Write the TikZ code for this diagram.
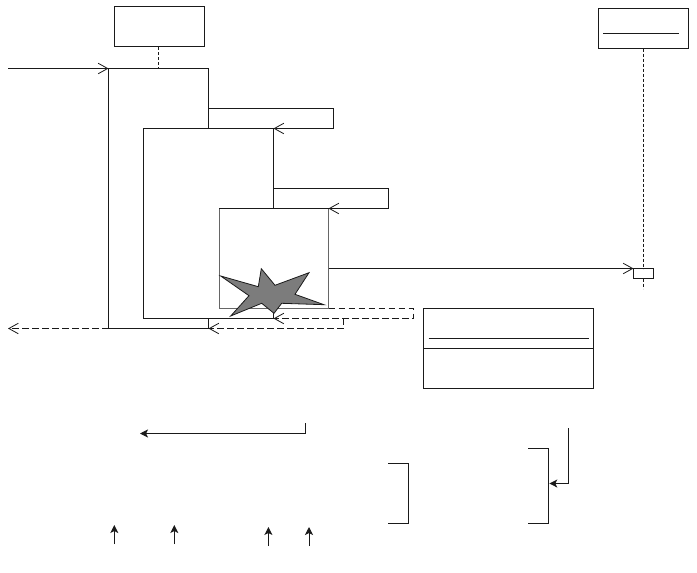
\documentclass[tikz,border=0pt]{standalone}
\usetikzlibrary{arrows.meta,calc}
\definecolor{ink}{HTML}{1A1A1A}
\definecolor{softink}{HTML}{666666}
\definecolor{starfill}{HTML}{7C7C7C}
\tikzset{
  boxnode/.style={draw=ink,fill=white,line width=1pt,inner sep=0pt,outer sep=0pt,anchor=north west,rectangle},
  softbox/.style={boxnode,draw=softink},
  link/.style={draw=ink,line width=1pt,line join=miter},
  openlink/.style={link,-{Straight Barb[length=9.5pt,width=10.5pt,line width=0.8pt]}},
  backlink/.style={openlink,dash pattern=on 6.5pt off 3.5pt},
  solidlink/.style={link,-{Stealth[length=8pt,width=8pt,inset=2pt]}},
  lifeline/.style={draw=ink,line width=1pt,dash pattern=on 3pt off 2pt},
}
\begin{document}
\begin{tikzpicture}[x=1pt,y=-1pt]
\useasboundingbox (0,0) rectangle (697,573);
% participants
\node[boxnode,minimum width=90pt,minimum height=40pt] (objA) at (114.5,6.5) {};
\node[boxnode,minimum width=90pt,minimum height=40pt] (objB) at (598.5,8.3) {};
\coordinate (bl1) at (603,33.4);
\coordinate (bl2) at (679,33.4);
\draw[link] (bl1) -- (bl2);
% activations
\node[boxnode,minimum width=100pt,minimum height=260pt] (act1) at (108.5,68.5) {};
\coordinate (s1a) at (208.5,108.5);
\coordinate (s1b) at (333.5,108.5);
\coordinate (s1c) at (333.5,128.5);
\node[boxnode,minimum width=130pt,minimum height=190pt] (act2) at (143.5,128.5) {};
\coordinate (s2a) at (273.5,188.5);
\coordinate (s2b) at (388.5,188.5);
\coordinate (s2c) at (388.5,208.5);
\node[softbox,minimum width=109.5pt,minimum height=100pt] (act3) at (219,208.5) {};
\draw[link] (act3.north west) -- (act3.north east);
\draw[openlink] (s1a) -- (s1b) -- (s1c) -- (act2.north east);
\draw[openlink] (s2a) -- (s2b) -- (s2c) -- (act3.north east);
% lifelines
\coordinate (la) at (158.5,47);
\coordinate (lb) at (158.5,68.5);
\draw[lifeline] (la) -- (lb);
\node[boxnode,minimum width=20pt,minimum height=10pt] (small) at (633.5,268.5) {};
\coordinate (lc) at (643.5,48.5);
\coordinate (ld) at (643.5,268.5);
\coordinate (le) at (643.5,278.5);
\coordinate (lf) at (643.5,288.5);
\draw[lifeline] (lc) -- (ld);
\draw[lifeline] (le) -- (lf);
% messages
\coordinate (start) at (8,68.5);
\draw[openlink] (start) -- (act1.north west);
\coordinate (m3a) at (328.5,268.5);
\coordinate (m3b) at (633.5,268.5);
\draw[openlink] (m3a) -- (m3b);
% star
\draw[draw=ink,fill=starfill,line width=0.8pt,line join=miter]
  (220.7,276) -- (258.3,286.7) -- (261.3,268.7) -- (275,285.3) -- (309,272.7) -- (295,294.3)
  -- (324,304.7) -- (281.7,303.3) -- (274,313.3) -- (261.7,303.3) -- (230.7,316) -- (249,295.7) -- cycle;
% returns
\coordinate (r1a) at (328.5,308.5);
\coordinate (r1b) at (413.5,308.5);
\coordinate (r1c) at (413.5,318.5);
\coordinate (r1d) at (273.5,318.5);
\draw[backlink] (r1a) -- (r1b) -- (r1c) -- (r1d);
\coordinate (r2a) at (343.5,318.5);
\coordinate (r2b) at (343.5,328.5);
\coordinate (r2c) at (208.5,328.5);
\draw[backlink] (r2a) -- (r2b) -- (r2c);
\coordinate (r3a) at (108.5,328.5);
\coordinate (r3b) at (8,328.5);
\draw[backlink] (r3a) -- (r3b);
% class box
\node[boxnode,minimum width=170pt,minimum height=80pt] (cls) at (423.5,308.5) {};
\coordinate (c1) at (423.5,348.4);
\coordinate (c2) at (593.5,348.4);
\coordinate (c3) at (428.5,338.4);
\coordinate (c4) at (589,338.4);
\draw[link] (c1) -- (c2);
\draw[link] (c3) -- (c4);
% annotations
\coordinate (n1a) at (305.6,423);
\coordinate (n1b) at (305.6,433.5);
\coordinate (n1c) at (140,433.5);
\draw[solidlink] (n1a) -- (n1b) -- (n1c);
\coordinate (b1a) at (388,463.4);
\coordinate (b1b) at (408.5,463.4);
\coordinate (b1c) at (408.5,523.4);
\coordinate (b1d) at (388,523.4);
\draw[link] (b1a) -- (b1b) -- (b1c) -- (b1d);
\coordinate (b2a) at (528.3,448.4);
\coordinate (b2b) at (548.5,448.4);
\coordinate (b2c) at (548.5,523.4);
\coordinate (b2d) at (528.3,523.4);
\draw[link] (b2a) -- (b2b) -- (b2c) -- (b2d);
\coordinate (n2a) at (568.5,428);
\coordinate (n2b) at (568.5,483.5);
\coordinate (n2c) at (549.3,483.5);
\draw[solidlink] (n2a) -- (n2b) -- (n2c);
\coordinate (u1a) at (114.3,544);
\coordinate (u1b) at (114.3,525);
\coordinate (u2a) at (174.3,544);
\coordinate (u2b) at (174.3,525);
\coordinate (u3a) at (268.4,546);
\coordinate (u3b) at (268.4,527);
\coordinate (u4a) at (309,546);
\coordinate (u4b) at (309,527);
\draw[solidlink] (u1a) -- (u1b);
\draw[solidlink] (u2a) -- (u2b);
\draw[solidlink] (u3a) -- (u3b);
\draw[solidlink] (u4a) -- (u4b);
\end{tikzpicture}
\end{document}
